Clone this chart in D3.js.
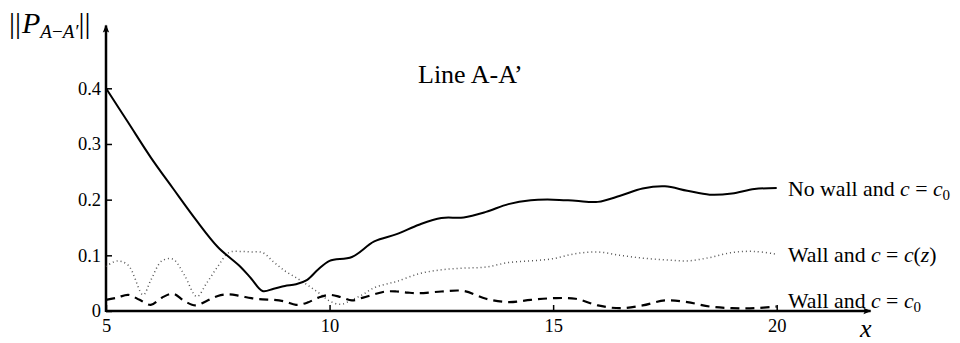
<!DOCTYPE html>
<html><head><meta charset="utf-8">
<script src="https://cdn.jsdelivr.net/npm/d3@7"></script>
<style>
html,body{margin:0;padding:0;background:#fff;}
svg{display:block;}
text{font-family:"Liberation Serif","Times New Roman",serif;fill:#000;}
</style></head>
<body>
<svg id="chart" width="960" height="343"></svg>
<script>
// ---- data ----
const xTicks = [5, 10, 15, 20];
const yTicks = [0, 0.1, 0.2, 0.3, 0.4];
const xSolid = [5,5.5,6,6.5,7,7.5,8,8.25,8.5,8.75,9,9.25,9.5,9.75,10,10.5,11,11.5,12,12.5,13,13.5,14,14.5,15,15.5,16,16.5,17,17.5,18,18.5,19,19.5,20];
const noWallC0 = [0.400,0.338,0.276,0.220,0.165,0.115,0.080,0.058,0.036,0.040,0.045,0.048,0.056,0.075,0.090,0.097,0.125,0.138,0.155,0.167,0.168,0.178,0.192,0.199,0.200,0.198,0.196,0.207,0.220,0.224,0.216,0.209,0.211,0.219,0.221];
const xDotted = [5,5.25,5.5,5.83,6,6.25,6.5,6.75,7.03,7.25,7.5,7.75,8,8.25,8.5,8.75,9,9.25,9.5,9.75,10,10.25,10.5,10.75,11,11.25,11.5,12,12.5,13,13.5,14,14.5,15,15.5,16,16.5,17,17.5,18,18.5,19,19.5,20];
const wallCz = [0.080,0.090,0.082,0.029,0.055,0.090,0.093,0.065,0.026,0.050,0.080,0.105,0.107,0.106,0.105,0.088,0.072,0.060,0.047,0.033,0.018,0.012,0.020,0.030,0.042,0.048,0.053,0.067,0.074,0.077,0.079,0.087,0.090,0.094,0.103,0.106,0.100,0.095,0.092,0.090,0.096,0.105,0.107,0.102];
const xDashed = [5,5.25,5.5,5.75,6,6.25,6.5,6.75,7,7.25,7.5,7.75,8,8.25,8.5,8.75,9,9.25,9.5,9.75,10,10.25,10.5,10.75,11,11.25,11.5,11.75,12,12.5,13,13.5,14,14.5,15,15.5,16,16.5,17,17.5,18,18.5,19,19.5,20];
const wallC0 = [0.020,0.024,0.029,0.020,0.011,0.024,0.031,0.018,0.010,0.018,0.027,0.030,0.027,0.023,0.021,0.020,0.017,0.011,0.015,0.024,0.029,0.025,0.019,0.024,0.030,0.035,0.035,0.033,0.032,0.035,0.036,0.022,0.016,0.020,0.023,0.022,0.010,0.005,0.010,0.019,0.016,0.008,0.005,0.005,0.008];
const seriesNames = ["No wall and c = c0", "Wall and c = c(z)", "Wall and c = c0"];
const titleText = "Line A-A\u2019";

// ---- layout ----
const svg = d3.select("#chart");
const x = d3.scaleLinear().domain([5, 20]).range([106, 776.7]);
const y = d3.scaleLinear().domain([0, 0.4]).range([311, 88.3]);
const xAxisEnd = 22.1, yAxisEnd = 0.513;

// arrow marker
svg.append("defs").append("marker")
  .attr("id","arr").attr("viewBox","0 0 10 10").attr("refX",9).attr("refY",5)
  .attr("markerWidth",12).attr("markerHeight",8).attr("markerUnits","userSpaceOnUse")
  .attr("orient","auto")
  .append("path").attr("d","M0,1 L10,5 L0,9 L2,5 Z").attr("fill","#000");

// axes
const gx = svg.append("g").attr("transform",`translate(0,${y(0)})`)
  .call(d3.axisBottom(x).tickValues(xTicks).tickSizeInner(-6).tickSizeOuter(0).tickPadding(8).tickFormat(d3.format("d")));
const gy = svg.append("g").attr("transform",`translate(${x(5)},0)`)
  .call(d3.axisLeft(y).tickValues(yTicks).tickSizeInner(-6).tickSizeOuter(0).tickPadding(5).tickFormat(d => d === 0 ? "0" : d3.format(".1f")(d)));
[gx, gy].forEach(g => {
  g.attr("font-family", null);
  g.select(".domain").remove();
  g.selectAll(".tick line").attr("stroke","#000").attr("stroke-width",1.5);
  g.selectAll(".tick text").attr("font-size",18.5).attr("fill","#000");
});
svg.append("line").attr("x1",x(5)).attr("x2",x(xAxisEnd)).attr("y1",y(0)).attr("y2",y(0))
  .attr("stroke","#000").attr("stroke-width",2.5).attr("marker-end","url(#arr)");
svg.append("line").attr("x1",x(5)).attr("x2",x(5)).attr("y1",y(0)+1).attr("y2",y(yAxisEnd))
  .attr("stroke","#000").attr("stroke-width",2.5).attr("marker-end","url(#arr)");

// lines
const line = (xs) => d3.line().x((d,i)=>x(xs[i])).y(d=>y(d)).curve(d3.curveCatmullRom.alpha(0.5));
svg.append("path").datum(wallCz).attr("d",line(xDotted)).attr("fill","none")
  .attr("stroke","#555").attr("stroke-width",1.5).attr("stroke-dasharray","1,3");
svg.append("path").datum(wallC0).attr("d",line(xDashed)).attr("fill","none")
  .attr("stroke","#000").attr("stroke-width",2.2).attr("stroke-dasharray","9,6");
svg.append("path").datum(noWallC0).attr("d",line(xSolid)).attr("fill","none")
  .attr("stroke","#000").attr("stroke-width",2);

// series labels
function label(txt, yy) {
  const t = svg.append("text").attr("x", 788).attr("y", yy).attr("font-size", 21.8);
  const m = txt.match(/^(.*?)c = (c)(0|\(z\))$/);
  t.append("tspan").text(m[1]);
  t.append("tspan").attr("font-style","italic").text("c");
  t.append("tspan").text(" = ");
  t.append("tspan").attr("font-style","italic").text("c");
  if (m[3] === "0") {
    t.append("tspan").attr("font-size",15).attr("dy",4).text("0");
  } else {
    t.append("tspan").text("(");
    t.append("tspan").attr("font-style","italic").text("z");
    t.append("tspan").text(")");
  }
}
label(seriesNames[0], y(noWallC0[noWallC0.length-1]) + 8);
label(seriesNames[1], y(wallCz[wallCz.length-1]) + 8);
label(seriesNames[2], y(wallC0[wallC0.length-1]) + 1);

// title
svg.append("text").attr("x", 418).attr("y", 83).attr("font-size", 26).text(titleText);

// y label ||P_{A-A'}||
const yl = svg.append("text").attr("x", 9).attr("y", 33).attr("font-size", 30);
yl.append("tspan").text("||");
yl.append("tspan").attr("font-style","italic").attr("dx",1).text("P");
yl.append("tspan").attr("font-size",19).attr("font-style","italic").attr("dy",5).text("A");
yl.append("tspan").attr("font-size",19).text("\u2212");
yl.append("tspan").attr("font-size",19).attr("font-style","italic").text("A\u2032");
yl.append("tspan").attr("dy",-5).text("||");

// x label
svg.append("text").attr("x", 860).attr("y", 337).attr("font-size", 26).attr("font-style","italic").text("x");
</script>
</body></html>
